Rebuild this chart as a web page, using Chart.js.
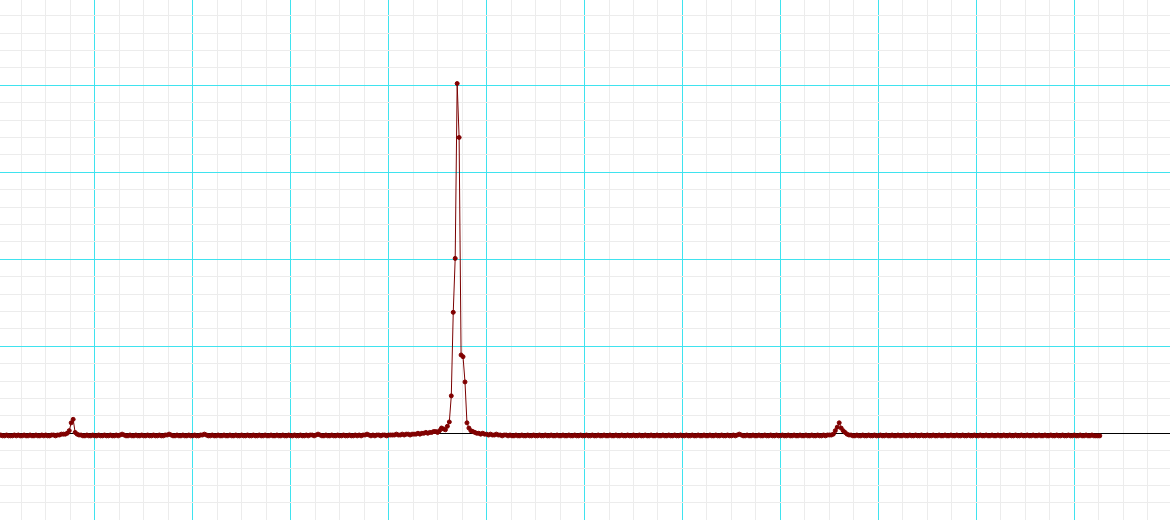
<!DOCTYPE html>
<html>
<head>
<meta charset="utf-8">
<style>
  html, body { margin: 0; padding: 0; background: #ffffff; }
  #wrap { width: 1170px; height: 520px; }
</style>
<script src="https://cdn.jsdelivr.net/npm/chart.js@4/dist/chart.umd.min.js"></script>
</head>
<body>
<div id="wrap"><canvas id="c" width="1170" height="520"></canvas></div>
<script>
// ---- data (sample index -> amplitude) ----
const baselineStart = [
  -.03,-.03,-.02,-.03,-.03,-.02,-.03,-.03,-.03,-.02,
  -.03,-.02,-.03,-.03,-.02,-.03,-.03,-.02,-.03,-.03,
  -.02,-.03,-.03,-.02,-.03,-.02,-.03,-.03,-.02,-.02,
  -.03,-.02,-.02,-.01,-.01
];
const smallPeakLeft = [-.01,.00,.03,.12,.16,.01,-.01,-.02];
const baselineBeforeMain = [
  -.02,-.03,-.03,-.02,-.03,-.03,-.02,-.03,-.03,-.02,
  -.03,-.03,-.02,-.03,-.03,-.02,-.03,-.03,-.02,-.03,
  -.02,-.01,-.02,-.03,-.03,-.02,-.03,-.03,-.02,-.03,
  -.03,-.02,-.03,-.03,-.02,-.03,-.03,-.02,-.03,-.03,
  -.02,-.03,-.03,-.02,-.02,-.01,-.02,-.03,-.03,-.02,
  -.03,-.03,-.02,-.03,-.03,-.02,-.03,-.03,-.02,-.03,
  -.03,-.02,-.02,-.01,-.02,-.03,-.03,-.02,-.03,-.03,
  -.02,-.03,-.03,-.02,-.03,-.03,-.02,-.03,-.03,-.02,
  -.03,-.03,-.02,-.03,-.03,-.02,-.03,-.03,-.02,-.03,
  -.03,-.02,-.03,-.03,-.02,-.03,-.03,-.02,-.03,-.03,
  -.02,-.03,-.03,-.02,-.03,-.03,-.02,-.03,-.03,-.02,
  -.03,-.03,-.02,-.03,-.03,-.02,-.03,-.02,-.02,-.03,
  -.02,-.01,-.02,-.03,-.03,-.02,-.03,-.03,-.02,-.03,
  -.03,-.02,-.03,-.03,-.02,-.03,-.03,-.02,-.03,-.03,
  -.02,-.03,-.02,-.03,-.02,-.02,-.01,-.02,-.03,-.02,
  -.03,-.02,-.02,-.03,-.02,-.02,-.03,-.02,-.02,-.02,
  -.02,-.01,-.02,-.02,-.01,-.02,-.01,-.01,-.02,-.01,
  -.01,-.01,.00,-.01,.00,.00,.01,.00,.01
];
const mainPeak = [
  .01,.02,.02,.01,.03,.06,.05,.04,.08,.13,
  .43,1.39,2.01,4.02,3.40,.90,.88,.59,.12,.06,
  .03,.02,.01,.00
];
const baselineAfterMain = [
  .00,-.01,.00,-.01,-.01,-.02,-.01,-.02,-.02,-.01,
  -.02,-.02,-.03,-.02,-.02,-.03,-.02,-.03,-.03,-.02,
  -.03,-.03,-.02,-.03,-.03,-.02,-.03,-.03,-.02,-.03,
  -.03,-.02,-.03,-.03,-.02,-.03,-.03,-.02,-.03,-.03,
  -.02,-.03,-.03,-.02,-.03,-.03,-.02,-.03,-.03,-.02,
  -.03,-.03,-.02,-.03,-.03,-.02,-.03,-.03,-.02,-.03,
  -.03,-.02,-.03,-.03,-.02,-.03,-.03,-.02,-.03,-.03,
  -.02,-.03,-.03,-.02,-.03,-.03,-.02,-.03,-.03,-.02,
  -.03,-.03,-.02,-.03,-.03,-.02,-.03,-.03,-.02,-.03,
  -.03,-.02,-.03,-.03,-.02,-.03,-.03,-.02,-.03,-.03,
  -.02,-.03,-.03,-.02,-.03,-.03,-.02,-.03,-.03,-.02,
  -.03,-.03,-.02,-.03,-.03,-.02,-.03,-.03,-.02,-.03,
  -.03,-.02,-.03,-.03,-.02,-.03,-.03,-.02,-.03,-.03,
  -.02,-.03,-.02,-.01,-.02,-.03,-.03,-.02,-.03,-.03,
  -.02,-.03,-.03,-.02,-.03,-.03,-.02,-.03,-.03,-.02,
  -.03,-.03,-.02,-.03,-.03,-.02,-.03,-.03,-.02,-.03,
  -.03,-.02,-.03,-.03,-.02,-.03,-.03,-.02,-.03,-.03,
  -.02,-.03,-.03,-.02,-.03,-.03,-.02,-.03,-.02,-.02,
  -.02
];
const smallPeakRight = [-.01,.03,.07,.12,.06,.03,.01,-.01];
const baselineEnd = [
  -.02,-.02,-.03,-.03,-.02,-.03,-.03,-.02,-.03,-.03,
  -.02,-.03,-.03,-.02,-.03,-.03,-.02,-.03,-.03,-.02,
  -.03,-.03,-.02,-.03,-.03,-.02,-.03,-.03,-.02,-.03,
  -.03,-.02,-.03,-.03,-.02,-.03,-.03,-.02,-.03,-.03,
  -.02,-.03,-.03,-.02,-.03,-.03,-.02,-.03,-.03,-.02,
  -.03,-.03,-.02,-.03,-.03,-.02,-.03,-.03,-.02,-.03,
  -.03,-.02,-.03,-.03,-.02,-.03,-.03,-.02,-.03,-.03,
  -.02,-.03,-.03,-.02,-.03,-.03,-.02,-.03,-.03,-.02,
  -.03,-.03,-.02,-.03,-.03,-.02,-.03,-.03,-.02,-.03,
  -.03,-.02,-.03,-.03,-.02,-.03,-.03,-.02,-.03,-.03,
  -.02,-.03,-.03,-.02,-.03,-.03,-.02,-.03,-.03,-.02,
  -.03,-.03,-.02,-.03,-.03,-.02,-.03,-.03,-.02,-.03,
  -.03,-.02,-.03,-.03,-.02,-.03,-.03,-.03,-.03
];
const amplitudes = [].concat(baselineStart, smallPeakLeft, baselineBeforeMain,
  mainPeak, baselineAfterMain, smallPeakRight, baselineEnd);
const sampleIndex = amplitudes.map((_, i) => i);

// axis ranges / grid steps
const xRange = [1.66, 598.84];
const yRange = [-0.997, 4.98];
const xMinorStep = 12.5, xMajorStep = 50;
const yMinorStep = 0.2, yMajorStep = 1;

const CYAN = '#3fe3ef';
const MINOR = '#ececec';

function isMultiple(v, step) {
  const r = v / step;
  return Math.abs(r - Math.round(r)) < 1e-6;
}
function gridTicks(min, max, step) {
  const out = [];
  const k0 = Math.ceil(min / step - 1e-9), k1 = Math.floor(max / step + 1e-9);
  for (let k = k0; k <= k1; k++) out.push({ value: Math.round(k * step * 1e6) / 1e6 });
  return out;
}

const points = sampleIndex.map((x, i) => ({ x: x, y: amplitudes[i] }));

new Chart(document.getElementById('c'), {
  type: 'scatter',
  data: {
    datasets: [{
      data: points,
      showLine: true,
      borderColor: '#7a0000',
      borderWidth: 1,
      pointRadius: 2,
      pointBorderWidth: 1,
      pointBackgroundColor: '#800000',
      pointBorderColor: '#800000',
      tension: 0
    }]
  },
  options: {
    responsive: false,
    animation: false,
    layout: { padding: 0, autoPadding: false },
    plugins: { legend: { display: false }, tooltip: { enabled: false } },
    scales: {
      x: {
        type: 'linear',
        min: xRange[0], max: xRange[1],
        afterBuildTicks: (axis) => { axis.ticks = gridTicks(xRange[0], xRange[1], xMinorStep); },
        ticks: { display: false },
        border: { display: false },
        grid: {
          drawTicks: false,
          lineWidth: 1,
          color: (ctx) => (ctx.tick && isMultiple(ctx.tick.value, xMajorStep)) ? CYAN : MINOR
        }
      },
      y: {
        type: 'linear',
        min: yRange[0], max: yRange[1],
        afterBuildTicks: (axis) => { axis.ticks = gridTicks(yRange[0], yRange[1], yMinorStep); },
        ticks: { display: false },
        border: { display: false },
        grid: {
          drawTicks: false,
          lineWidth: 1,
          color: (ctx) => {
            if (!ctx.tick) return MINOR;
            const v = ctx.tick.value;
            if (Math.abs(v) < 1e-9) return '#000000';
            return isMultiple(v, yMajorStep) ? CYAN : MINOR;
          }
        }
      }
    }
  }
});
</script>
</body>
</html>
